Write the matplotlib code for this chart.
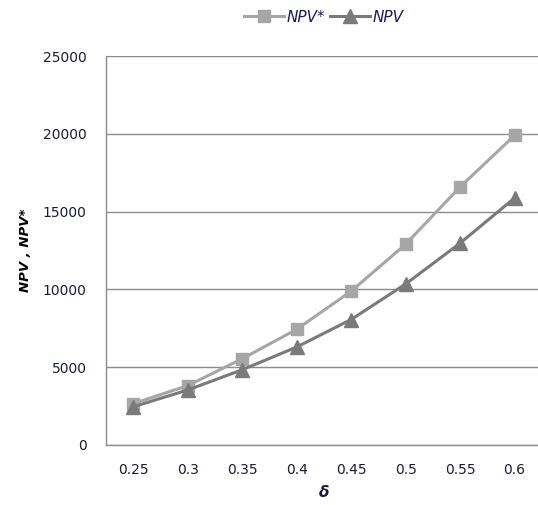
import matplotlib.pyplot as plt

# --- Data ---
delta = ["0.25", "0.3", "0.35", "0.4", "0.45", "0.5", "0.55", "0.6"]
npv_star = [2650, 3810, 5540, 7430, 9880, 12900, 16580, 19900]
npv = [2450, 3530, 4830, 6290, 8060, 10340, 12970, 15870]
y_ticks = [0, 5000, 10000, 15000, 20000, 25000]

text_col = "#1a1a3a"
grid_col = "#8c8c8c"

fig = plt.figure(figsize=(5.38, 5.05), dpi=100)
ax = fig.add_axes([0.197, 0.119, 0.81, 0.770])

x = list(range(len(delta)))
ax.plot(x, npv_star, color="#a6a6a6", lw=2.2, marker="s", ms=8.5,
        label="NPV*", zorder=3)
ax.plot(x, npv, color="#7a7a7a", lw=2.2, marker="^", ms=9.5,
        label="NPV", zorder=4)

ax.set_xlim(-0.5, len(delta) - 0.5)
ax.set_ylim(0, 25000)
ax.set_xticks(x)
ax.set_xticklabels(delta)
ax.set_yticks(y_ticks)
ax.tick_params(axis="both", length=0, labelsize=10, colors=text_col)
ax.tick_params(axis="x", pad=13)
ax.tick_params(axis="y", pad=14)
ax.yaxis.grid(True, color=grid_col, lw=1)
ax.set_axisbelow(True)

for side in ["top", "right"]:
    ax.spines[side].set_visible(False)
for side in ["left", "bottom"]:
    ax.spines[side].set_color(grid_col)
    ax.spines[side].set_linewidth(1)

ax.set_xlabel("δ", fontsize=11, fontweight="bold", fontstyle="italic",
              color=text_col, labelpad=6)
ax.set_ylabel("NPV , NPV*", fontsize=9.5, fontweight="bold", fontstyle="italic",
              color="black", labelpad=8)

leg = ax.legend(loc="upper center", bbox_to_anchor=(0.5, 1.155), ncol=2,
                frameon=False, prop={"size": 11, "style": "italic"},
                handlelength=2.6, columnspacing=0.3, handletextpad=0.2)
for t in leg.get_texts():
    t.set_color("#1a1a5a")

fig.savefig("out.png", dpi=100)
